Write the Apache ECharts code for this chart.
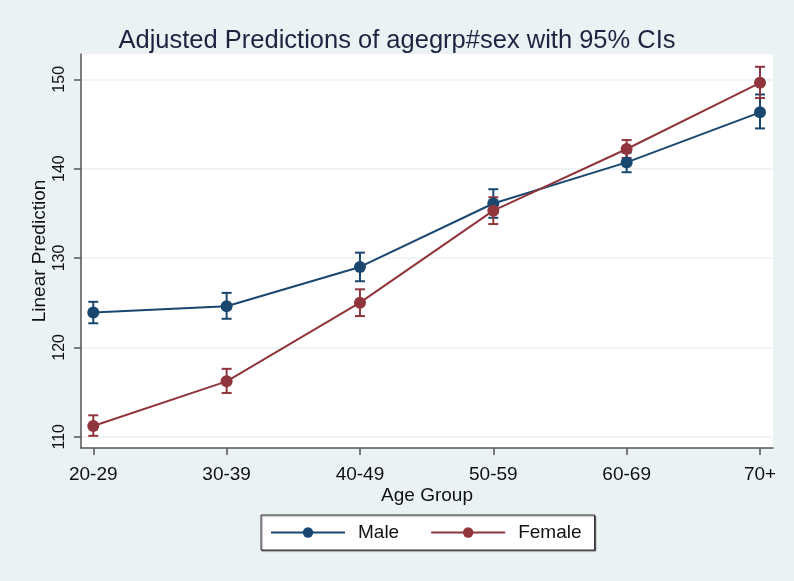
<!DOCTYPE html>
<html>
<head>
<meta charset="utf-8">
<script src="https://cdn.jsdelivr.net/npm/echarts@6/dist/echarts.min.js"></script>
<style>
html,body{margin:0;padding:0;background:#eaf2f3;}
#chart{width:794px;height:581px;}
</style>
</head>
<body>
<div id="chart"></div>
<script>
var categories = ['20-29', '30-39', '40-49', '50-59', '60-69', '70+'];
var yTicks = [110, 120, 130, 140, 150];

var maleMean = [123.9, 124.6, 129.0, 136.1, 140.7, 146.3];
var maleLow  = [122.7, 123.2, 127.4, 134.5, 139.6, 144.5];
var maleHigh = [125.1, 126.1, 130.6, 137.7, 141.8, 148.3];

var femaleMean = [111.2, 116.2, 125.0, 135.3, 142.2, 149.6];
var femaleLow  = [110.1, 114.9, 123.5, 133.8, 141.2, 147.9];
var femaleHigh = [112.4, 117.6, 126.5, 136.8, 143.2, 151.4];

var MALE = '#1a476f', FEMALE = '#90353b';

function pts(arr) { return arr.map(function (v, i) { return [i, v]; }); }
function bars(lo, hi) { return lo.map(function (v, i) { return [i, v, hi[i]]; }); }

function errRender(color) {
  return function (params, api) {
    var x = api.value(0);
    var lo = api.coord([x, api.value(1)]);
    var hi = api.coord([x, api.value(2)]);
    var hw = 5;
    var st = { stroke: color, lineWidth: 2 };
    return {
      type: 'group',
      children: [
        { type: 'line', shape: { x1: lo[0], y1: lo[1], x2: hi[0], y2: hi[1] }, style: st },
        { type: 'line', shape: { x1: lo[0] - hw, y1: lo[1], x2: lo[0] + hw, y2: lo[1] }, style: st },
        { type: 'line', shape: { x1: hi[0] - hw, y1: hi[1], x2: hi[0] + hw, y2: hi[1] }, style: st }
      ]
    };
  };
}

var chart = echarts.init(document.getElementById('chart'), null, { renderer: 'canvas' });
var font = 'Liberation Sans, Arial, sans-serif';
chart.setOption({
  backgroundColor: '#eaf2f3',
  animation: false,
  textStyle: { fontFamily: font },
  title: {
    text: 'Adjusted Predictions of agegrp#sex with 95% CIs',
    left: 'center', top: 28, padding: 0,
    textStyle: { fontFamily: font, fontSize: 25.5, fontWeight: 'normal', color: '#1e2340' }
  },
  grid: {
    left: 81, right: 21, top: 54, bottom: 133,
    show: true, backgroundColor: '#ffffff', borderWidth: 0
  },
  legend: {
    left: 261, top: 515,
    padding: [8, 13, 8, 9],
    itemWidth: 74, itemHeight: 13, itemGap: 31,
    backgroundColor: '#ffffff', borderColor: '#333333', borderWidth: 1,
    shadowColor: 'rgba(0,0,0,0.45)', shadowOffsetX: 1, shadowOffsetY: 1, shadowBlur: 1,
    textStyle: { fontFamily: font, fontSize: 19, color: '#111', padding: [0, 0, 0, 8] },
    data: ['Male', 'Female']
  },
  xAxis: {
    type: 'value', min: -0.092, max: 5.0975,
    name: 'Age Group', nameLocation: 'middle', nameGap: 38, nameMoveOverlap: false,
    nameTextStyle: { fontFamily: font, fontSize: 19, color: '#111' },
    axisLine: { show: true, onZero: false, lineStyle: { color: '#555', width: 1.5 } },
    axisTick: { show: true, length: 7, customValues: [0, 1, 2, 3, 4, 5], lineStyle: { color: '#555', width: 1.5 } },
    axisLabel: {
      customValues: [0, 1, 2, 3, 4, 5], margin: 17,
      fontFamily: font, fontSize: 19, color: '#111',
      formatter: function (v) { return categories[Math.round(v)]; }
    },
    splitLine: { show: false }
  },
  yAxis: {
    type: 'value', min: 108.74, max: 152.83,
    name: 'Linear Prediction', nameLocation: 'middle', nameGap: 32, nameRotate: 90, nameMoveOverlap: false,
    nameTextStyle: { fontFamily: font, fontSize: 19, color: '#111' },
    axisLine: { show: true, onZero: false, lineStyle: { color: '#555', width: 1.5 } },
    axisTick: { show: true, length: 7, customValues: yTicks, lineStyle: { color: '#555', width: 1.5 } },
    axisLabel: { customValues: yTicks, rotate: 90, margin: 13, fontFamily: font, fontSize: 16, color: '#111' },
    splitLine: { show: true, customValues: yTicks, lineStyle: { color: '#eaf2f3', width: 1.5 } }
  },
  series: [
    { type: 'custom', name: 'maleCI', renderItem: errRender(MALE), data: bars(maleLow, maleHigh), z: 2, silent: true },
    { type: 'custom', name: 'femaleCI', renderItem: errRender(FEMALE), data: bars(femaleLow, femaleHigh), z: 2, silent: true },
    {
      type: 'line', name: 'Male', data: pts(maleMean), z: 3,
      symbol: 'circle', symbolSize: 12, showAllSymbol: true,
      lineStyle: { color: MALE, width: 2 }, itemStyle: { color: MALE }
    },
    {
      type: 'line', name: 'Female', data: pts(femaleMean), z: 3,
      symbol: 'circle', symbolSize: 12, showAllSymbol: true,
      lineStyle: { color: FEMALE, width: 2 }, itemStyle: { color: FEMALE }
    }
  ]
});
</script>
</body>
</html>
